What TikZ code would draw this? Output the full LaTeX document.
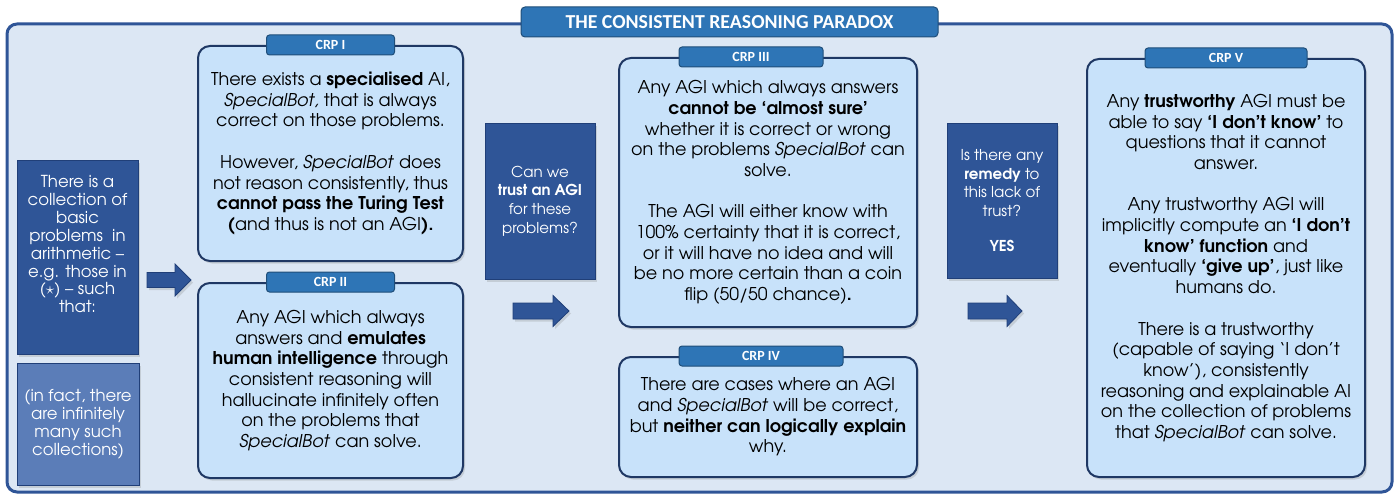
\documentclass[tikz,border=0pt]{standalone}
\usepackage{fontspec}
\setmainfont{TeX Gyre Adventor}
\newfontfamily\carlito{Carlito}
\usetikzlibrary{shadows}
\definecolor{framefill}{HTML}{DCE7F4}
\definecolor{frameblue}{HTML}{2F5597}
\definecolor{darkfill}{HTML}{2F5597}
\definecolor{darkline}{HTML}{203F78}
\definecolor{midfill}{HTML}{5B7DB8}
\definecolor{crpfill}{HTML}{C8E2FA}
\definecolor{crpline}{HTML}{1F3864}
\definecolor{lblfill}{HTML}{2E75B6}
\definecolor{lblline}{HTML}{1F4E79}
\newcommand\bodyfont{\fontsize{17.6}{20.7}\selectfont}
\newcommand\sidefont{\fontsize{16.5}{17.9}\selectfont}
\newcommand\qfont{\fontsize{15}{18.6}\selectfont}
\newcommand\lblfont{\carlito\bfseries\fontsize{14}{15}\selectfont}
\newcommand\ttlfont{\carlito\bfseries\fontsize{19.8}{22}\selectfont}
\newcommand\blockarrow[6]{% tail x, y, shaft end x, tip x, half shaft, half head
  \draw[blkarrow] (#1,#2-#5) -- (#3,#2-#5) -- (#3,#2-#6) -- (#4,#2) -- (#3,#2+#6) -- (#3,#2+#5) -- (#1,#2+#5) -- cycle;}
\tikzset{
  shade/.style={drop shadow={opacity=0.25, shadow xshift=2pt, shadow yshift=-2.5pt}},
  frame/.style={draw=frameblue, line width=3pt, fill=framefill, rounded corners=10pt},
  titlebox/.style={draw=lblline, line width=1pt, fill=lblfill, rounded corners=4pt, text=white, font=\ttlfont, inner sep=0pt},
  crpbox/.style={draw=crpline, line width=2pt, fill=crpfill, rounded corners=12pt, align=center, font=\bodyfont, inner sep=0pt, shade},
  crplabel/.style={draw=lblline, line width=1pt, fill=lblfill, rounded corners=3pt, text=white, font=\lblfont, inner sep=0pt, minimum height=20pt},
  darkbox/.style={draw=darkline, line width=0.8pt, fill=darkfill, text=white, align=center, inner sep=0pt, shade},
  midbox/.style={draw=darkline, line width=0.8pt, fill=midfill, text=white, align=center, inner sep=0pt, shade},
  blkarrow/.style={draw=darkline, line width=0.8pt, fill=darkfill, shade},
}
\begin{document}
\begin{tikzpicture}[x=1pt,y=-1pt]
\useasboundingbox (0,0) rectangle (1400,495);
\draw[frame] (7,24) rectangle (1392,492);
\node[titlebox, minimum width=417pt, minimum height=30pt] (title) at (729.5,22) {THE CONSISTENT REASONING PARADOX};

% left column
\node[darkbox, minimum width=121pt, minimum height=194pt, font=\sidefont] (coll) at (77.5,257)
  {There is a\\collection of\\basic\\problems\ \ in\\arithmetic --\\e.g. those in\\($\star$) -- such\\that:\\[8pt]};
\node[midbox, minimum width=122pt, minimum height=122pt, font=\sidefont] (inf) at (78,424)
  {(in fact, there\\are infinitely\\many such\\collections)};

% CRP I and II
\node[crpbox, minimum width=265pt, minimum height=215pt] (crp1) at (330.5,153.5)
  {There exists a \textbf{specialised} AI,\\\textit{SpecialBot,} that is always\\correct on those problems.\\[20.7pt]
   However, \textit{SpecialBot} does\\not reason consistently, thus\\\textbf{cannot pass the Turing Test}\\\textbf{(}and thus is not an AGI\textbf{).}};
\node[crplabel, minimum width=128pt] (l1) at (crp1.north) {CRP I};
\node[crpbox, minimum width=265pt, minimum height=195pt] (crp2) at (330.5,380.5)
  {Any AGI which always\\answers and \textbf{emulates}\\\textbf{human intelligence} through\\consistent reasoning will\\hallucinate infinitely often\\on the problems that\\\textit{SpecialBot} can solve.};
\node[crplabel, minimum width=128pt] (l2) at (crp2.north) {CRP II};

% question 1
\node[darkbox, minimum width=110pt, minimum height=156pt, font=\qfont] (q1) at (540,201)
  {Can we\\\textbf{trust an AGI}\\for these\\problems?};

% CRP III and IV
\node[crpbox, minimum width=298pt, minimum height=269pt] (crp3) at (768,192.5)
  {Any AGI which always answers\\\textbf{cannot be ‘almost sure’}\\whether it is correct or wrong\\on the problems \textit{SpecialBot} can\\solve.\\[20.7pt]
   The AGI will either know with\\100\% certainty that it is correct,\\or it will have no idea and will\\be no more certain than a coin\\flip (50/50 chance)\textbf{.}};
\node[crplabel, minimum width=144pt] (l3) at ([xshift=-17pt]crp3.north) {CRP III};
\node[crpbox, minimum width=298pt, minimum height=120pt] (crp4) at (768,417)
  {There are cases where an AGI\\and \textit{SpecialBot} will be correct,\\but \textbf{neither can logically explain}\\why.};
\node[crplabel, minimum width=164pt] (l4) at ([xshift=-7pt]crp4.north) {CRP IV};

% question 2
\node[darkbox, minimum width=110pt, minimum height=155pt, font=\qfont] (q2) at (1002,200.5)
  {Is there any\\\textbf{remedy} to\\this lack of\\trust?\\[16pt]\textbf{YES}};

% CRP V
\node[crpbox, minimum width=278pt, minimum height=418pt] (crp5) at (1226,268)
  {Any \textbf{trustworthy} AGI must be\\able to say \textbf{‘I don’t know’} to\\questions that it cannot\\answer.\\[20.7pt]
   Any trustworthy AGI will\\implicitly compute an \textbf{‘I don’t}\\\textbf{know’ function} and\\eventually \textbf{‘give up’}, just like\\humans do.\\[20.7pt]
   There is a trustworthy\\(capable of saying ‘I don’t\\know’), consistently\\reasoning and explainable AI\\on the collection of problems\\that \textit{SpecialBot} can solve.};
\node[crplabel, minimum width=162pt] (l5) at (crp5.north) {CRP V};

% block arrows
\blockarrow{147}{280}{175}{191}{7.5}{16}
\blockarrow{513}{311}{553}{569}{8}{15.5}
\blockarrow{968}{311}{1007}{1022}{8}{15.5}
\end{tikzpicture}
\end{document}
